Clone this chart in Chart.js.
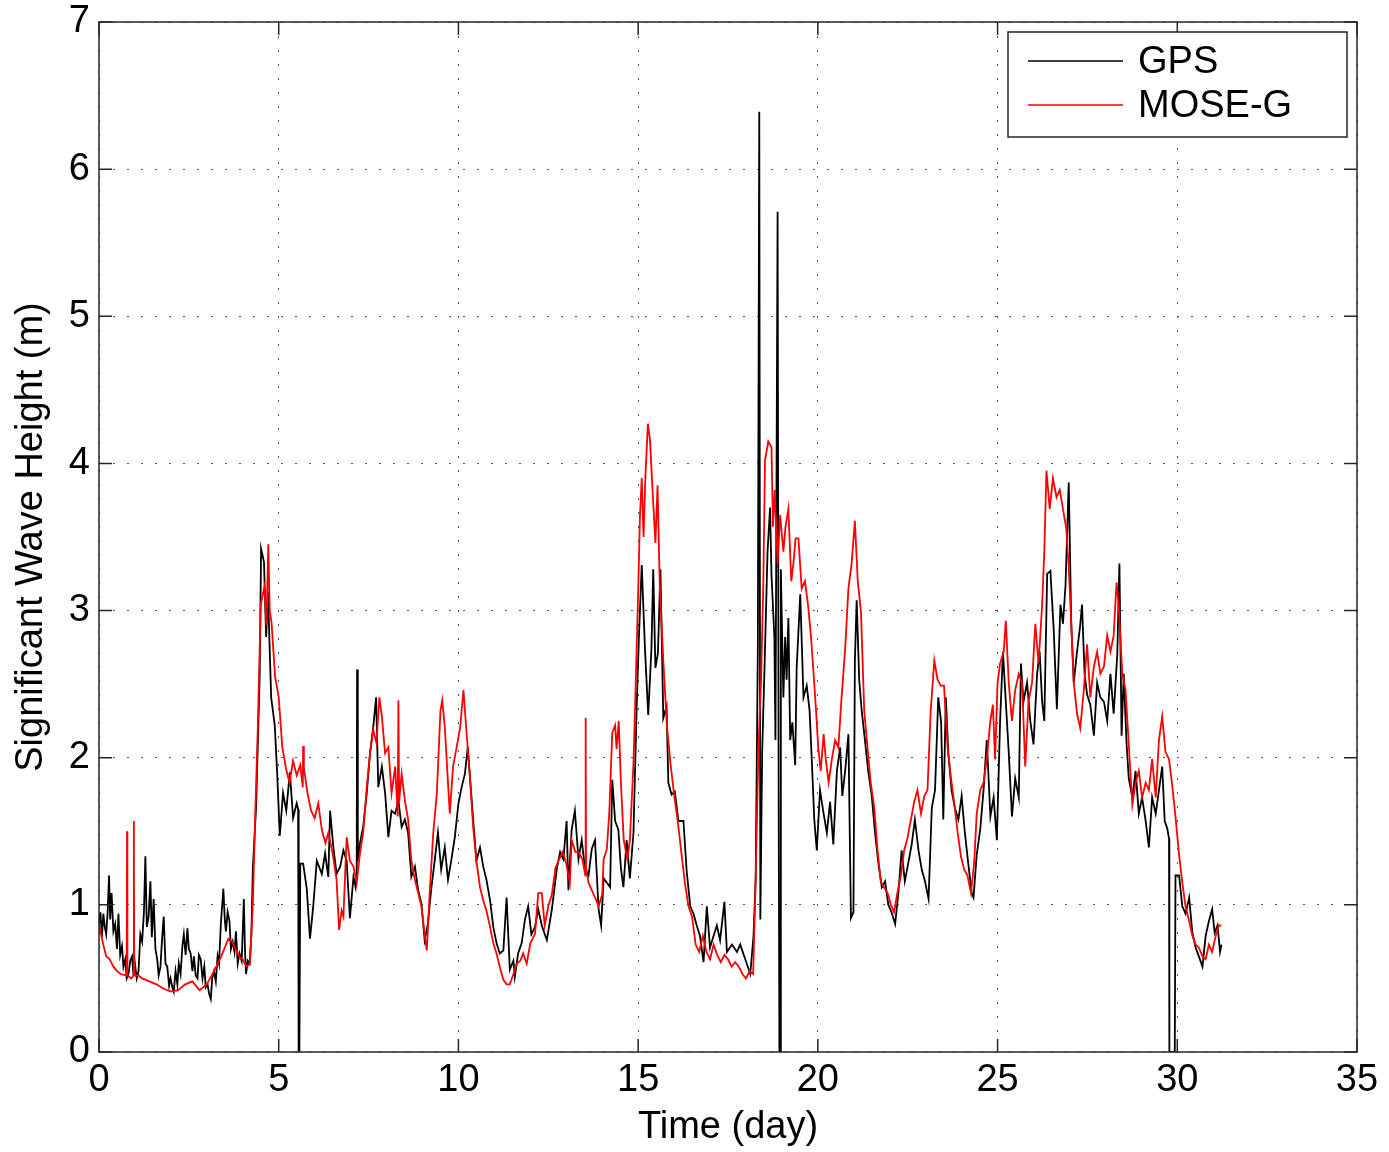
<!DOCTYPE html>
<html>
<head>
<meta charset="utf-8">
<title>Significant Wave Height</title>
<script src="https://cdn.jsdelivr.net/npm/chart.js@4.4.1/dist/chart.umd.min.js"></script>
<style>
  body { margin: 0; background: #fff; }
  canvas { display: block; }
</style>
</head>
<body>
<canvas id="grafica" width="1389" height="1152"></canvas>
<script>
// GPS series (day, significant wave height in m)
const gpsDay = [
  0, .04, .08, .12, .16, .2, .24, .28, .31, .35,
  .4, .45, .5, .54, .59, .64, .68, .73, .77, .82,
  .87, .92, .96, 1.0, 1.05, 1.1, 1.15, 1.2, 1.25, 1.29,
  1.33, 1.38, 1.43, 1.47, 1.52, 1.57, 1.62, 1.66, 1.71, 1.75,
  1.8, 1.85, 1.9, 1.95, 1.99, 2.04, 2.08, 2.13, 2.18, 2.22,
  2.27, 2.32, 2.36, 2.41, 2.46, 2.5, 2.55, 2.6, 2.64, 2.69,
  2.74, 2.78, 2.83, 2.88, 2.93, 2.97, 3.02, 3.06, 3.11, 3.15,
  3.2, 3.25, 3.3, 3.34, 3.39, 3.46, 3.5, 3.53, 3.58, 3.63,
  3.67, 3.72, 3.77, 3.81, 3.86, 3.91, 3.97, 4.03, 4.06, 4.09,
  4.14, 4.19, 4.24, 4.28, 4.37, 4.47,
  4.51, 4.59, 4.65, 4.7, 4.79, 4.89, 4.96, 5.03, 5.12, 5.21,
  5.31, 5.4, 5.5, 5.54, 5.555, 5.575, 5.6, 5.68, 5.78, 5.87,
  5.96, 6.06, 6.2, 6.29, 6.38, 6.43, 6.52, 6.61, 6.71, 6.8,
  6.89, 6.98, 7.08, 7.14, 7.17, 7.18, 7.2, 7.26, 7.35, 7.45,
  7.54, 7.63, 7.71, 7.77, 7.87, 7.96, 8.05, 8.14, 8.24, 8.33,
  8.42, 8.51, 8.6, 8.69, 8.79, 8.88, 8.97, 9.06, 9.15, 9.24,
  9.34, 9.43, 9.52, 9.62, 9.71, 9.8, 9.9, 10.0, 10.09, 10.18,
  10.26, 10.32, 10.41, 10.5, 10.6, 10.69, 10.78, 10.88, 10.97, 11.06,
  11.15, 11.25, 11.34, 11.43, 11.53, 11.57, 11.66, 11.76, 11.85, 11.94,
  12.03, 12.13, 12.22, 12.32, 12.46, 12.6, 12.74, 12.83, 12.92, 13.01,
  13.06, 13.15, 13.24, 13.34, 13.43, 13.52, 13.62, 13.71, 13.8, 13.9,
  13.97, 14.04, 14.13, 14.22, 14.28, 14.36, 14.45, 14.52, 14.59, 14.68,
  14.77, 14.87, 14.96, 15.02, 15.1, 15.19, 15.28, 15.37, 15.42, 15.48,
  15.55, 15.62, 15.7, 15.79, 15.84, 15.93, 16.02, 16.12, 16.26, 16.35,
  16.45, 16.54, 16.63, 16.72, 16.82, 16.91, 17.0, 17.1, 17.19, 17.28,
  17.4, 17.47, 17.61, 17.75, 17.84, 17.98, 18.12, 18.21, 18.27, 18.33,
  18.37, 18.4, 18.45, 18.53, 18.6, 18.67, 18.71, 18.79, 18.82, 18.88,
  18.91, 18.93, 18.95, 18.97, 19.04, 19.09, 19.13, 19.18, 19.23, 19.29,
  19.37, 19.41, 19.51, 19.6, 19.69, 19.77, 19.83, 19.9, 19.97, 20.06,
  20.16, 20.25, 20.34, 20.43, 20.53, 20.62, 20.68, 20.76, 20.85, 20.92,
  20.99, 21.03, 21.08, 21.15, 21.22, 21.31, 21.4, 21.5, 21.59, 21.68,
  21.78, 21.87, 21.96, 22.05, 22.15, 22.24, 22.33, 22.42, 22.52, 22.61,
  22.7, 22.8, 22.89, 22.98, 23.08, 23.17, 23.26, 23.35, 23.43, 23.49,
  23.56, 23.63, 23.72, 23.81, 23.91, 24.0, 24.09, 24.18, 24.28, 24.33,
  24.42, 24.52, 24.61, 24.7, 24.8, 24.89, 24.98, 25.07, 25.15, 25.21,
  25.31, 25.4, 25.49, 25.59, 25.65, 25.72, 25.82, 25.91, 26.0, 26.1,
  26.17, 26.24, 26.3, 26.38, 26.47, 26.56, 26.65, 26.75, 26.82, 26.89,
  26.98, 27.05, 27.12, 27.21, 27.29, 27.35, 27.42, 27.49, 27.58, 27.68,
  27.77, 27.86, 27.96, 28.05, 28.14, 28.23, 28.33, 28.39, 28.45, 28.51,
  28.59, 28.65, 28.75, 28.84, 28.93, 29.02, 29.12, 29.21, 29.3, 29.4,
  29.49, 29.58, 29.65, 29.72, 29.77, 29.78, 29.93, 29.95, 30.05, 30.14,
  30.23, 30.33, 30.42, 30.51, 30.6, 30.7, 30.79, 30.88, 30.97, 31.04,
  31.12, 31.19, 31.23
];
const gpsHs = [
  .87, .95, .78, .94, .85, .8, .95, 1.2, .9, 1.08,
  .82, .87, .7, .94, .66, .72, .58, .63, .5, .53,
  .62, .65, .52, .6, .5, .55, .8, .75, .95, 1.33,
  .85, .92, 1.16, .78, 1.04, .7, .63, .52, .58, .75,
  .92, .6, .58, .45, .5, .44, .41, .55, .46, .6,
  .53, .72, .8, .66, .84, .7, .67, .55, .65, .52,
  .5, .66, .63, .5, .58, .44, .46, .4, .36, .5,
  .55, .48, .65, .6, .87, 1.11, .9, .82, .95, .89,
  .7, .75, .68, .82, .6, .67, .62, 1.04, .7, .53,
  .62, .6, .8, 1.25, 1.66, 2.55,
  3.42, 3.33, 2.82, 3.13, 2.41, 2.22, 1.88, 1.47, 1.76, 1.64,
  1.9, 1.59, 1.69, 1.65, 0, 0, 1.28, 1.28, 1.11, .77,
  .99, 1.3, 1.21, 1.35, 1.19, 1.64, 1.39, 1.21, 1.26, 1.37,
  1.3, .91, 1.19, 1.12, 1.2, 2.6, 1.3, 1.42, 1.53, 1.76,
  2.03, 2.21, 2.41, 1.8, 1.94, 1.76, 1.46, 1.64, 1.62, 1.71,
  1.53, 1.58, 1.49, 1.19, 1.26, 1.1, 1.01, .76, .87, 1.1,
  1.3, 1.49, 1.24, 1.39, 1.17, 1.3, 1.46, 1.69, 1.8, 1.89,
  2.07, 1.87, 1.58, 1.3, 1.39, 1.26, 1.17, 1.03, .85, .74,
  .67, .69, 1.05, .56, .62, .51, .67, .74, .9, .99,
  .8, .85, .97, .86, .76, .97, 1.25, 1.36, 1.31, 1.57,
  1.1, 1.51, 1.64, 1.31, 1.44, 1.25, 1.2, 1.38, 1.44, .97,
  .86, 1.18, 1.15, 1.12, 1.85, 1.57, 1.51, 1.25, 1.12, 1.44,
  1.18, 1.49, 2.35, 2.81, 3.31, 2.74, 2.29, 2.74, 3.28, 2.61,
  2.71, 3.28, 2.27, 2.35, 1.83, 1.75, 1.77, 1.57, 1.57, 1.23,
  .99, .94, .86, .79, .61, .99, .71, .79, .86, .76,
  1.02, .68, .73, .68, .73, .63, .53, .79, 1.18, 2.74,
  6.39, .9, 2.03, 2.74, 3.4, 3.7, 3.24, 2.82, 2.12, 5.71,
  1.7, 0, 0, 3.28, 2.41, 2.82, 2.53, 2.95, 2.12, 2.24,
  1.95, 2.61, 3.11, 2.41, 2.49, 2.32, 1.99, 1.58, 1.37, 1.78,
  1.62, 1.49, 1.7, 1.41, 1.91, 2.07, 1.74, 1.91, 2.16, .91,
  .95, 2.66, 3.07, 2.53, 2.32, 2.12, 1.91, 1.74, 1.49, 1.29,
  1.12, 1.16, 1.0, .95, .87, 1.08, 1.37, 1.16, 1.29, 1.41,
  1.58, 1.37, 1.24, 1.16, 1.04, 1.66, 1.78, 2.41, 2.24, 1.58,
  2.41, 2.03, 1.78, 1.66, 1.58, 1.74, 1.49, 1.29, 1.08, 1.05,
  1.34, 1.52, 1.78, 2.12, 1.6, 1.73, 1.44, 2.25, 2.72, 2.46,
  2.04, 1.6, 1.86, 1.73, 2.64, 2.38, 2.51, 2.25, 2.09, 2.57,
  2.72, 2.38, 2.25, 3.25, 3.27, 2.88, 2.33, 3.04, 2.91, 3.17,
  3.87, 2.91, 2.51, 2.72, 2.88, 3.04, 2.57, 2.43, 2.36, 2.15,
  2.51, 2.41, 2.38, 2.25, 2.57, 2.3, 2.7, 3.32, 2.15, 2.57,
  2.09, 1.86, 1.73, 1.91, 1.62, 1.73, 1.57, 1.39, 1.73, 1.62,
  1.78, 1.94, 1.57, 1.52, 1.45, 0, 0, 1.2, 1.2, .99,
  .94, 1.05, .81, .71, .65, .58, .79, .89, .97, .81,
  .86, .68, .73
];

// MOSE-G series (day, significant wave height in m)
const moseDay = [
  0, .1, .2, .3, .4, .5, .6, .77, .78, .79,
  .9, .96, .97, .98, 1.1, 1.2, 1.4, 1.6, 1.8, 2.0,
  2.2, 2.4, 2.6, 2.8, 3.0, 3.2, 3.4, 3.6, 3.7, 3.8,
  3.9, 4.0, 4.1, 4.2, 4.28, 4.35, 4.42, 4.5, 4.6, 4.66,
  4.71, 4.75, 4.8, 4.9, 5.0, 5.1, 5.2, 5.3, 5.4, 5.5,
  5.6, 5.67, 5.68, 5.7, 5.8, 5.9, 6.0, 6.1, 6.2, 6.3,
  6.38, 6.5, 6.61, 6.68, 6.75, 6.8, 6.89, 6.98, 7.08, 7.17,
  7.26, 7.35, 7.45, 7.54, 7.63, 7.72, 7.8, 7.87, 7.96, 8.05,
  8.14, 8.24, 8.31, 8.33, 8.35, 8.42, 8.51, 8.6, 8.69, 8.79,
  8.88, 8.97, 9.06, 9.12, 9.2, 9.3, 9.4, 9.5, 9.55, 9.62,
  9.7, 9.76, 9.85, 9.95, 10.05, 10.14, 10.22, 10.3, 10.41, 10.5,
  10.6, 10.69, 10.78, 10.88, 10.97, 11.06, 11.15, 11.25, 11.34, 11.43,
  11.53, 11.62, 11.72, 11.8, 11.9, 12.0, 12.13, 12.22, 12.32, 12.4,
  12.5, 12.6, 12.7, 12.8, 12.9, 13.0, 13.1, 13.15, 13.25, 13.34,
  13.45, 13.53, 13.54, 13.55, 13.62, 13.71, 13.8, 13.9, 14.0, 14.04,
  14.13, 14.2, 14.28, 14.36, 14.4, 14.46, 14.52, 14.6, 14.7, 14.77,
  14.87, 14.93, 15.0, 15.05, 15.1, 15.15, 15.2, 15.27, 15.33, 15.4,
  15.48, 15.54, 15.6, 15.7, 15.8, 15.9, 16.0, 16.1, 16.2, 16.3,
  16.4, 16.5, 16.6, 16.7, 16.8, 16.9, 17.0, 17.1, 17.2, 17.3,
  17.4, 17.5, 17.6, 17.7, 17.8, 17.9, 18.0, 18.1, 18.2, 18.27,
  18.35, 18.42, 18.48, 18.53, 18.62, 18.71, 18.75, 18.8, 18.88, 18.95,
  19.04, 19.1, 19.18, 19.26, 19.32, 19.38, 19.46, 19.55, 19.64, 19.73,
  19.81, 19.87, 19.95, 20.01, 20.08, 20.16, 20.22, 20.3, 20.39, 20.48,
  20.57, 20.66, 20.76, 20.85, 20.94, 21.03, 21.11, 21.2, 21.29, 21.38,
  21.47, 21.57, 21.66, 21.75, 21.84, 21.94, 22.03, 22.12, 22.21, 22.31,
  22.4, 22.49, 22.59, 22.68, 22.77, 22.87, 22.96, 23.05, 23.14, 23.24,
  23.33, 23.42, 23.51, 23.61, 23.7, 23.79, 23.89, 23.98, 24.07, 24.16,
  24.26, 24.35, 24.42, 24.52, 24.61, 24.7, 24.8, 24.87, 24.93, 25.0,
  25.07, 25.17, 25.23, 25.31, 25.4, 25.49, 25.59, 25.68, 25.77, 25.86,
  25.96, 26.05, 26.14, 26.24, 26.3, 26.36, 26.45, 26.54, 26.64, 26.73,
  26.82, 26.91, 26.98, 27.05, 27.12, 27.21, 27.3, 27.4, 27.49, 27.58,
  27.68, 27.77, 27.86, 27.96, 28.05, 28.14, 28.23, 28.31, 28.37, 28.47,
  28.56, 28.65, 28.75, 28.84, 28.93, 29.02, 29.12, 29.21, 29.3, 29.4,
  29.49, 29.58, 29.67, 29.77, 29.86, 29.95, 30.05, 30.14, 30.23, 30.33,
  30.42, 30.51, 30.6, 30.7, 30.79, 30.88, 30.97, 31.07, 31.16, 31.23
];
const moseHs = [
  .87, .75, .65, .63, .58, .55, .53, .52, 1.5, .52,
  .5, .52, 1.57, .52, .52, .5, .48, .46, .43, .41,
  .42, .46, .48, .42, .46, .55, .65, .77, .75, .7,
  .65, .63, .58, .6, 1.01, 1.64, 2.22, 3.04, 3.16, 2.9,
  3.45, 3.0, 2.92, 2.55, 2.41, 2.07, 1.93, 1.83, 1.98, 1.88,
  1.95, 1.8, 2.08, 1.93, 1.76, 1.64, 1.59, 1.69, 1.51, 1.42,
  1.49, 1.35, 1.17, .83, .96, .92, 1.46, 1.3, 1.26, 1.15,
  1.35, 1.49, 1.8, 2.03, 2.19, 2.1, 2.41, 2.28, 2.03, 2.07,
  1.76, 1.94, 1.6, 2.39, 1.7, 1.89, 1.71, 1.58, 1.3, 1.17,
  1.08, .99, .8, .69, 1.08, 1.49, 1.76, 2.32, 2.39, 2.21,
  1.87, 1.62, 1.94, 2.07, 2.21, 2.46, 2.19, 1.94, 1.53, 1.3,
  1.12, 1.03, .96, .85, .74, .67, .58, .49, .46, .46,
  .53, .6, .62, .67, .6, .74, .8, 1.08, 1.08, .86,
  .99, 1.07, 1.25, 1.31, 1.36, 1.28, 1.15, 1.44, 1.36, 1.36,
  1.31, 1.2, 2.27, 1.25, 1.15, 1.1, 1.05, .99, 1.07, 1.31,
  1.38, 1.64, 2.17, 2.22, 2.06, 2.25, 1.83, 1.44, 1.31, 1.44,
  1.96, 2.48, 3.12, 3.64, 3.9, 3.5, 3.9, 4.27, 4.16, 3.82,
  3.46, 3.85, 3.18, 2.66, 2.22, 1.96, 1.75, 1.57, 1.36, 1.15,
  .99, .92, .73, .68, .79, .68, .63, .73, .66, .61,
  .66, .63, .58, .61, .58, .53, .5, .55, .53, 1.18,
  2.09, 2.53, 3.15, 4.02, 4.15, 4.11, 3.57, 3.82, 3.32, 3.65,
  3.4, 3.57, 3.69, 3.2, 3.32, 3.49, 3.49, 3.15, 3.2, 3.03,
  2.82, 2.61, 2.32, 2.07, 1.91, 2.16, 1.99, 1.83, 1.99, 2.12,
  2.07, 2.41, 2.74, 3.15, 3.32, 3.61, 3.2, 2.99, 2.32, 2.07,
  1.83, 1.66, 1.37, 1.16, 1.12, 1.08, 1.0, .95, 1.08, 1.2,
  1.37, 1.45, 1.58, 1.7, 1.78, 1.62, 1.74, 1.78, 2.32, 2.66,
  2.53, 2.49, 2.49, 2.07, 1.87, 1.7, 1.49, 1.33, 1.24, 1.2,
  1.08, 1.29, 1.62, 1.78, 1.83, 1.99, 2.25, 2.36, 1.99, 2.51,
  2.64, 2.72, 2.93, 2.51, 2.25, 2.46, 2.57, 2.51, 1.94, 2.38,
  2.51, 2.91, 2.64, 3.04, 3.4, 3.95, 3.69, 3.9, 3.77, 3.82,
  3.69, 3.56, 3.3, 2.91, 2.51, 2.3, 2.2, 2.46, 2.77, 2.41,
  2.62, 2.72, 2.57, 2.62, 2.83, 2.72, 2.83, 3.19, 3.04, 2.57,
  2.46, 2.09, 1.68, 1.83, 1.91, 1.73, 1.83, 1.78, 1.99, 1.73,
  2.12, 2.28, 2.04, 1.99, 1.81, 1.6, 1.34, 1.15, .99, .89,
  .79, .73, .71, .65, .63, .73, .68, .79, .86, .86
];

const etiquetas = ['GPS', 'MOSE-G'];
const colores = ['#000000', '#ff0000'];

if (gpsDay.length !== gpsHs.length || moseDay.length !== moseHs.length) {
  throw new Error('largos distintos: ' + gpsDay.length + '/' + gpsHs.length + ' ' + moseDay.length + '/' + moseHs.length);
}

const fuente = 'Liberation Sans, Arial, Helvetica, sans-serif';

function puntos(dias, alturas) {
  return dias.map(function (d, i) { return { x: d, y: alturas[i] }; });
}

// caja de ejes estilo matlab + ticks hacia adentro + leyenda
const marcoEjes = {
  id: 'marcoEjes',
  afterDatasetsDraw(chart) {
    const ctx = chart.ctx;
    const a = chart.chartArea;
    const sx = chart.scales.x;
    const sy = chart.scales.y;
    const largo = 13;
    ctx.save();
    ctx.strokeStyle = '#262626';
    ctx.lineWidth = 1.5;
    ctx.beginPath();
    sx.ticks.forEach(function (t) {
      const px = sx.getPixelForValue(t.value);
      ctx.moveTo(px, a.bottom); ctx.lineTo(px, a.bottom - largo);
      ctx.moveTo(px, a.top); ctx.lineTo(px, a.top + largo);
    });
    sy.ticks.forEach(function (t) {
      const py = sy.getPixelForValue(t.value);
      ctx.moveTo(a.left, py); ctx.lineTo(a.left + largo, py);
      ctx.moveTo(a.right, py); ctx.lineTo(a.right - largo, py);
    });
    ctx.stroke();
    ctx.strokeRect(a.left, a.top, a.right - a.left, a.bottom - a.top);

    // leyenda
    const ancho = 339, alto = 105;
    const bx = a.right - 10 - ancho;
    const by = a.top + 10;
    ctx.fillStyle = '#fff';
    ctx.fillRect(bx, by, ancho, alto);
    ctx.strokeStyle = '#262626';
    ctx.lineWidth = 1.5;
    ctx.strokeRect(bx, by, ancho, alto);
    ctx.font = '38px ' + fuente;
    ctx.textBaseline = 'middle';
    ctx.textAlign = 'left';
    chart.data.datasets.forEach(function (ds, i) {
      const ly = by + 29 + i * 44;
      ctx.strokeStyle = ds.borderColor;
      ctx.lineWidth = 1.3;
      ctx.beginPath();
      ctx.moveTo(bx + 20, ly);
      ctx.lineTo(bx + 115, ly);
      ctx.stroke();
      ctx.fillStyle = '#000';
      ctx.fillText(ds.label, bx + 130, ly + 2);
    });
    ctx.restore();
  }
};

const chartDOM = document.getElementById('grafica');
const config = {
  type: 'scatter',
  data: {
    datasets: [
      {
        label: etiquetas[0],
        data: puntos(gpsDay, gpsHs),
        borderColor: colores[0],
        backgroundColor: colores[0],
        borderWidth: 1.8,
        showLine: true,
        pointRadius: 0,
        tension: 0,
        order: 2
      },
      {
        label: etiquetas[1],
        data: puntos(moseDay, moseHs),
        borderColor: colores[1],
        backgroundColor: colores[1],
        borderWidth: 1.8,
        showLine: true,
        pointRadius: 0,
        tension: 0,
        order: 1
      }
    ]
  },
  options: {
    responsive: false,
    animation: false,
    layout: { padding: { left: 0, right: 32, top: 22, bottom: 0 } },
    plugins: { legend: { display: false }, tooltip: { enabled: false } },
    scales: {
      x: {
        type: 'linear',
        min: 0,
        max: 35,
        ticks: { stepSize: 5, padding: 6, color: '#000', font: { size: 38, family: fuente } },
        grid: { color: '#555', lineWidth: 1, drawTicks: false },
        border: { display: false, dash: [2, 12] },
        title: { display: true, text: 'Time (day)', color: '#000', font: { size: 38, family: fuente }, padding: { top: 0, bottom: 2 } },
        afterFit: function (s) { s.height = 100; s.paddingLeft = 0; s.paddingRight = 0; }
      },
      y: {
        type: 'linear',
        min: 0,
        max: 7,
        ticks: { stepSize: 1, padding: 9, color: '#000', font: { size: 38, family: fuente } },
        grid: { color: '#555', lineWidth: 1, drawTicks: false },
        border: { display: false, dash: [2, 12] },
        title: { display: true, text: 'Significant Wave Height (m)', color: '#000', font: { size: 38, family: fuente }, padding: { top: 9, bottom: 0 } },
        afterFit: function (s) { s.width = 99; s.paddingTop = 0; s.paddingBottom = 0; }
      }
    }
  },
  plugins: [marcoEjes]
};

new Chart(chartDOM, config);
</script>
</body>
</html>
